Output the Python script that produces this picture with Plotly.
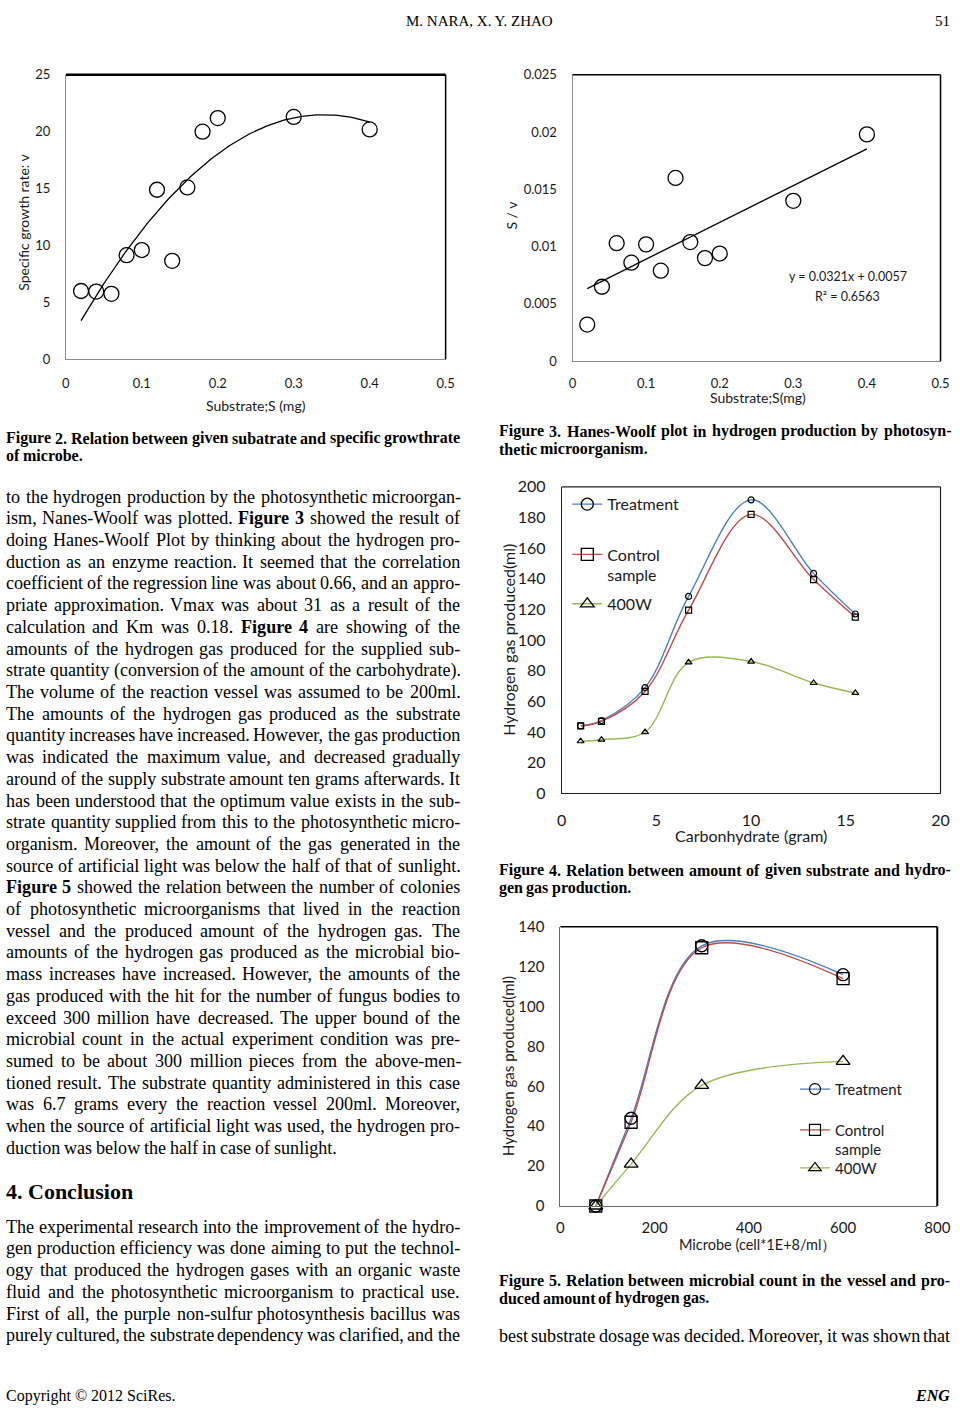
import numpy as np
import plotly.graph_objects as go

W, H = 965, 1414


def px(x):
    return x / W


def py(y):
    return 1 - y / H


# ---------------- data ----------------
# Figure 2: substrate S (mg) vs specific growth rate v
fig2_S = [0.02, 0.04, 0.06, 0.08, 0.10, 0.12, 0.14, 0.16, 0.18, 0.20, 0.30, 0.40]
fig2_v = [6.0, 5.95, 5.75, 9.15, 9.6, 14.9, 8.65, 15.1, 20.0, 21.2, 21.3, 20.2]

# Figure 3: Hanes-Woolf S/v vs S
fig3_S = [0.02, 0.04, 0.06, 0.08, 0.10, 0.12, 0.14, 0.16, 0.18, 0.20, 0.30, 0.40]
fig3_Sv = [0.0032, 0.0065, 0.0103, 0.0086, 0.0102, 0.0079, 0.0160, 0.0104,
           0.0090, 0.0094, 0.0140, 0.0198]
fig3_slope = 0.0321
fig3_intercept = 0.0057
fig3_eq = "y = 0.0321x + 0.0057"
fig3_r2 = "R² = 0.6563"

# Figure 4: carbohydrate (gram) vs hydrogen gas (ml)
fig4_x = [1.0, 2.1, 4.4, 6.7, 10.0, 13.3, 15.5]
fig4_treat = [44, 47.5, 69, 128.5, 191.5, 143.5, 117]
fig4_ctrl = [44, 47, 66.5, 119.5, 182, 139.5, 115]
fig4_400w = [34, 35, 40, 85.5, 86, 72, 65.5]

# Figure 5: microbe (cell*1E+8/ml) vs hydrogen gas (ml)
fig5_x = [75, 150, 300, 600]
fig5_treat = [0, 44, 130.5, 116]
fig5_ctrl = [0, 42, 129.5, 114]
fig5_400w = [0, 21, 60.5, 72.5]

series_names = ["Treatment", "Control<br>sample", "400W"]
series_colors = ["#4A7EBB", "#BE4B48", "#98B954"]
series_symbols = ["circle-open", "square-open", "triangle-up-open"]

# ---------------- text ----------------
header_text = "M. NARA, X. Y. ZHAO"
page_number = "51"

left_lines = [
    "to the hydrogen production by the photosynthetic microorgan-",
    "ism, Nanes-Woolf was plotted. **Figure 3** showed the result of",
    "doing Hanes-Woolf Plot by thinking about the hydrogen pro-",
    "duction as an enzyme reaction. It seemed that the correlation",
    "coefficient of the regression line was about 0.66, and an appro-",
    "priate approximation. Vmax was about 31 as a result of the",
    "calculation and Km was 0.18. **Figure 4** are showing of the",
    "amounts of the hydrogen gas produced for the supplied sub-",
    "strate quantity (conversion of the amount of the carbohydrate).",
    "The volume of the reaction vessel was assumed to be 200ml.",
    "The amounts of the hydrogen gas produced as the substrate",
    "quantity increases have increased. However, the gas production",
    "was indicated the maximum value, and decreased gradually",
    "around of the supply substrate amount ten grams afterwards. It",
    "has been understood that the optimum value exists in the sub-",
    "strate quantity supplied from this to the photosynthetic micro-",
    "organism. Moreover, the amount of the gas generated in the",
    "source of artificial light was below the half of that of sunlight.",
    "**Figure 5** showed the relation between the number of colonies",
    "of photosynthetic microorganisms that lived in the reaction",
    "vessel and the produced amount of the hydrogen gas. The",
    "amounts of the hydrogen gas produced as the microbial bio-",
    "mass increases have increased. However, the amounts of the",
    "gas produced with the hit for the number of fungus bodies to",
    "exceed 300 million have decreased. The upper bound of the",
    "microbial count in the actual experiment condition was pre-",
    "sumed to be about 300 million pieces from the above-men-",
    "tioned result. The substrate quantity administered in this case",
    "was 6.7 grams every the reaction vessel 200ml. Moreover,",
    "when the source of artificial light was used, the hydrogen pro-",
    "duction was below the half in case of sunlight.",
]
conclusion_title = "4. Conclusion"
conclusion_lines = [
    "The experimental research into the improvement of the hydro-",
    "gen production efficiency was done aiming to put the technol-",
    "ogy that produced the hydrogen gases with an organic waste",
    "fluid and the photosynthetic microorganism to practical use.",
    "First of all, the purple non-sulfur photosynthesis bacillus was",
    "purely cultured, the substrate dependency was clarified, and the",
]
cap2 = ["Figure 2. Relation between given subatrate and specific growthrate", "of microbe."]
cap3 = ["Figure 3. Hanes-Woolf plot in hydrogen production by photosyn-", "thetic microorganism."]
cap4 = ["Figure 4. Relation between amount of given substrate and hydro-", "gen gas production."]
cap5 = ["Figure 5. Relation between microbial count in the vessel and pro-", "duced amount of hydrogen gas."]
right_body = ["best substrate dosage was decided. Moreover, it was shown that"]
copyright_text = "Copyright © 2012 SciRes."
journal_text = "ENG"

# ---------------- font metrics (Times, 1/1000 em) ----------------
UP = "ABCDEFGHIJKLMNOPQRSTUVWXYZ"
LO = "abcdefghijklmnopqrstuvwxyz"


def make_table(upper, lower, punct):
    t = {}
    for c, w in zip(UP, upper):
        t[c] = w
    for c, w in zip(LO, lower):
        t[c] = w
    for d in "0123456789":
        t[d] = 500
    t.update(punct)
    return t


TR = make_table(
    [722, 667, 667, 722, 611, 556, 722, 722, 333, 389, 722, 611, 889, 722, 722, 556, 722, 667, 556, 611, 722, 722, 944, 722, 722, 611],
    [444, 500, 444, 500, 444, 333, 500, 500, 278, 278, 500, 278, 778, 500, 500, 500, 500, 333, 389, 278, 500, 500, 722, 500, 500, 444],
    {" ": 250, ",": 250, ".": 250, "-": 333, ":": 278, ";": 278, "(": 333, ")": 333, "©": 760},
)
TB = make_table(
    [722, 667, 722, 722, 667, 611, 778, 778, 389, 500, 778, 667, 944, 722, 778, 611, 778, 722, 556, 667, 722, 722, 1000, 722, 722, 667],
    [500, 556, 444, 556, 444, 333, 500, 556, 278, 333, 556, 278, 833, 556, 500, 556, 556, 444, 389, 333, 556, 500, 722, 500, 500, 444],
    {" ": 250, ",": 250, ".": 250, "-": 333, ":": 333, ";": 333, "(": 333, ")": 333},
)

SERIF = "Liberation Serif"
SANS = "Lato"
annotations = []


def word_width(word, bold, size):
    t = TB if bold else TR
    return sum(t.get(c, 500) for c in word) * size / 1000.0


def parse(line, all_bold=False):
    words = []
    parts = line.split("**")
    for i, part in enumerate(parts):
        bold = all_bold or (i % 2 == 1)
        for w in part.split():
            words.append((w, bold))
    return words


def add_line(line, x0, x1, y, size, justify=True, all_bold=False):
    words = parse(line, all_bold)
    widths = [word_width(w, b, size) for w, b in words]
    space = 0.25 * size
    if justify and len(words) > 1:
        gap = (x1 - x0 - sum(widths)) / (len(words) - 1)
        gap = max(gap, 0.6 * space)
    else:
        gap = space
    x = x0
    for (w, b), ww in zip(words, widths):
        txt = "<b>%s</b>" % w if b else w
        annotations.append(dict(
            x=px(x), y=py(y), xref="paper", yref="paper", xanchor="left", yanchor="middle",
            text=txt, showarrow=False, borderpad=0, borderwidth=0,
            font=dict(family=SERIF, size=size, color="black")))
        x += ww + gap


def add_text(text, x, y, size, anchor="center", family=SERIF, color="black", angle=0):
    annotations.append(dict(
        x=px(x), y=py(y), xref="paper", yref="paper", xanchor=anchor, yanchor="middle",
        text=text, showarrow=False, borderpad=0, borderwidth=0, textangle=angle,
        font=dict(family=family, size=size, color=color)))


BODY = 18.1
LX0, LX1 = 1, 463
RX0, RX1 = 503, 963

for i, ln in enumerate(left_lines):
    add_line(ln, LX0, LX1, 493.3 + 22 * i, BODY, justify=(i < len(left_lines) - 1))
add_text("<b>4. Conclusion</b>", 1, 1198, 22, anchor="left")
for i, ln in enumerate(conclusion_lines):
    add_line(ln, LX0, LX1, 1233.3 + 22 * i, BODY, justify=True)

for cap, (x0, x1, y) in [(cap2, (LX0, LX1, 434)), (cap3, (RX0, RX1, 427)),
                         (cap4, (RX0, RX1, 872)), (cap5, (RX0, RX1, 1288))]:
    add_line(cap[0], x0, x1, y, 16, justify=True, all_bold=True)
    add_line(cap[1], x0, x1, y + 18, 16, justify=False, all_bold=True)

add_line(right_body[0], RX0, RX1, 1344, BODY, justify=True)
add_text(header_text, 484, 11, 15)
add_text(page_number, 963, 11, 15, anchor="right")
add_text(copyright_text, 1, 1405, 16, anchor="left")
add_text("<b><i>%s</i></b>" % journal_text, 963, 1404, 16, anchor="right")

# ---------------- chart axis titles & equation ----------------
add_text("Substrate;S (mg)", 256, 401, 14, family=SANS, color="#1a1a1a")
add_text("Specific growth rate: v", 18, 215, 14, family=SANS, color="#1a1a1a", angle=-90)
add_text("Substrate;S(mg)", 767, 393, 14, family=SANS, color="#1a1a1a")
add_text("S / v", 516, 208, 14, family=SANS, color="#1a1a1a", angle=-90)
add_text(fig3_eq, 859, 270, 12.5, family=SANS, color="#1a1a1a")
add_text(fig3_r2, 859, 290, 12.5, family=SANS, color="#1a1a1a")
add_text("Carbonhydrate (gram)", 760, 837, 16, family=SANS, color="#1a1a1a")
add_text("Hydrogen gas produced(ml)", 513, 638, 16, family=SANS, color="#1a1a1a", angle=-90)
add_text("Microbe (cell*1E+8/ml）", 767, 1251, 14.5, family=SANS, color="#1a1a1a")
add_text("Hydrogen gas produced(ml)", 512, 1070, 15, family=SANS, color="#1a1a1a", angle=-90)

# ---------------- traces ----------------
fig = go.Figure()

# Figure 2
coef2 = np.polyfit(fig2_S, fig2_v, 2)
xs2 = np.linspace(min(fig2_S), max(fig2_S), 120)
fig.add_trace(go.Scatter(x=xs2, y=np.polyval(coef2, xs2), mode="lines",
                         line=dict(color="black", width=1.3), xaxis="x", yaxis="y", showlegend=False))
fig.add_trace(go.Scatter(x=fig2_S, y=fig2_v, mode="markers", xaxis="x", yaxis="y", showlegend=False,
                         marker=dict(symbol="circle-open", size=15, color="black", line=dict(width=1.3))))

# Figure 3
xs3 = np.array([min(fig3_S), max(fig3_S)])
fig.add_trace(go.Scatter(x=xs3, y=fig3_slope * xs3 + fig3_intercept, mode="lines",
                         line=dict(color="black", width=1.3), xaxis="x2", yaxis="y2", showlegend=False))
fig.add_trace(go.Scatter(x=fig3_S, y=fig3_Sv, mode="markers", xaxis="x2", yaxis="y2", showlegend=False,
                         marker=dict(symbol="circle-open", size=15, color="black", line=dict(width=1.3))))

# Figure 4
for ys, col, sym in zip([fig4_treat, fig4_ctrl, fig4_400w], series_colors, series_symbols):
    fig.add_trace(go.Scatter(x=fig4_x, y=ys, mode="lines", line=dict(color=col, width=1.4, shape="spline", smoothing=1.0),
                             xaxis="x3", yaxis="y3", showlegend=False))
for ys, col, sym in zip([fig4_treat, fig4_ctrl, fig4_400w], series_colors, series_symbols):
    fig.add_trace(go.Scatter(x=fig4_x, y=ys, mode="markers", xaxis="x3", yaxis="y3", showlegend=False,
                             marker=dict(symbol=sym, size=6, color="black", line=dict(width=1.2))))
for k, (name, col, sym) in enumerate(zip(series_names, series_colors, series_symbols)):
    fig.add_trace(go.Scatter(x=[None], y=[None], mode="lines+markers", name=name, xaxis="x3", yaxis="y3",
                             legend="legend" if k == 0 else "legend%d" % (k + 1),
                             line=dict(color=col, width=1.4),
                             marker=dict(symbol=sym, size=12, color="black", line=dict(width=1.3))))

# Figure 5
for ys, col, sym in zip([fig5_treat, fig5_ctrl, fig5_400w], series_colors, series_symbols):
    fig.add_trace(go.Scatter(x=fig5_x, y=ys, mode="lines", line=dict(color=col, width=1.4, shape="spline", smoothing=1.0),
                             xaxis="x4", yaxis="y4", showlegend=False, cliponaxis=False))
for ys, col, sym in zip([fig5_treat, fig5_ctrl, fig5_400w], series_colors, series_symbols):
    fig.add_trace(go.Scatter(x=fig5_x, y=ys, mode="markers", xaxis="x4", yaxis="y4", showlegend=False,
                             cliponaxis=False,
                             marker=dict(symbol=sym, size=12, color="black", line=dict(width=1.3))))
for k, (name, col, sym) in enumerate(zip(series_names, series_colors, series_symbols)):
    fig.add_trace(go.Scatter(x=[None], y=[None], mode="lines+markers", name=name, xaxis="x4", yaxis="y4",
                             legend="legend%d" % (k + 4),
                             line=dict(color=col, width=1.2),
                             marker=dict(symbol=sym, size=11, color="black", line=dict(width=1.2))))


# ---------------- axes ----------------
def axis(domain, anchor, rng, dtick, fsize, linecolor, ticklen=12):
    return dict(domain=domain, anchor=anchor, range=rng, dtick=dtick, tick0=0,
                showgrid=False, zeroline=False, showline=True, linecolor=linecolor, linewidth=1,
                ticks="outside", ticklen=ticklen, tickcolor="rgba(0,0,0,0)",
                tickfont=dict(family=SANS, size=fsize, color="#1a1a1a"), fixedrange=True)


layout_axes = dict(
    xaxis=axis([px(62), px(449)], "y", [0, 0.5], 0.1, 13, "#8c8c8c"),
    yaxis=axis([py(354), py(65.7)], "x", [0, 25], 5, 13, "#8c8c8c"),
    xaxis2=axis([px(578.3), px(953.3)], "y2", [0, 0.5], 0.1, 13, "#8c8c8c", ticklen=10),
    yaxis2=axis([py(356), py(65.7)], "x2", [0, 0.025], 0.005, 13, "#8c8c8c"),
    xaxis3=axis([px(567.3), px(953.3)], "y3", [0, 20], 5, 16, "#222222"),
    yaxis3=axis([py(794), py(483.3)], "x3", [0, 200], 20, 16, "#222222"),
    xaxis4=axis([px(566), px(950)], "y4", [0, 800], 200, 15, "#6a6a6a", ticklen=8),
    yaxis4=axis([py(1212.3), py(929.3)], "x4", [0, 140], 20, 15, "#6a6a6a"),
)


def border(xa, ya, side, width, color="black"):
    if side == "top":
        c = dict(x0=0, x1=1, y0=1, y1=1)
    else:
        c = dict(x0=1, x1=1, y0=0, y1=1)
    return dict(type="line", xref="%s domain" % xa, yref="%s domain" % ya,
                line=dict(color=color, width=width), **c)


shapes = [
    border("x", "y", "top", 2.5), border("x", "y", "right", 1.5),
    border("x2", "y2", "top", 1.5), border("x2", "y2", "right", 1.5),
    border("x3", "y3", "top", 1.2, "#222222"), border("x3", "y3", "right", 1.2, "#222222"),
    border("x4", "y4", "top", 1.5), border("x4", "y4", "right", 2),
]


def legend(xp, yp, fsize):
    return dict(x=px(xp), y=py(yp), xanchor="left", yanchor="middle", bgcolor="rgba(0,0,0,0)",
                borderwidth=0, valign="top", font=dict(family=SANS, size=fsize, color="#1a1a1a"),
                itemclick=False, itemdoubleclick=False)


fig.update_layout(
    autosize=True, margin=dict(l=0, r=0, t=0, b=0, pad=0),
    paper_bgcolor="white", plot_bgcolor="white",
    showlegend=True,
    annotations=annotations, shapes=shapes,
    legend=legend(573, 501, 16),
    legend2=legend(573, 562.5, 16),
    legend3=legend(573, 602, 16),
    legend4=legend(805, 1094, 15),
    legend5=legend(805, 1145, 15),
    legend6=legend(805, 1174, 15),
    **layout_axes,
)

fig.write_html(
    "out.html",
    config={"displayModeBar": False, "responsive": True},
    default_width="100vw",
    default_height="100vh",
    post_script="document.documentElement.style.margin='0';document.body.style.margin='0';document.body.style.overflow='hidden';window.dispatchEvent(new Event('resize'));",
)
